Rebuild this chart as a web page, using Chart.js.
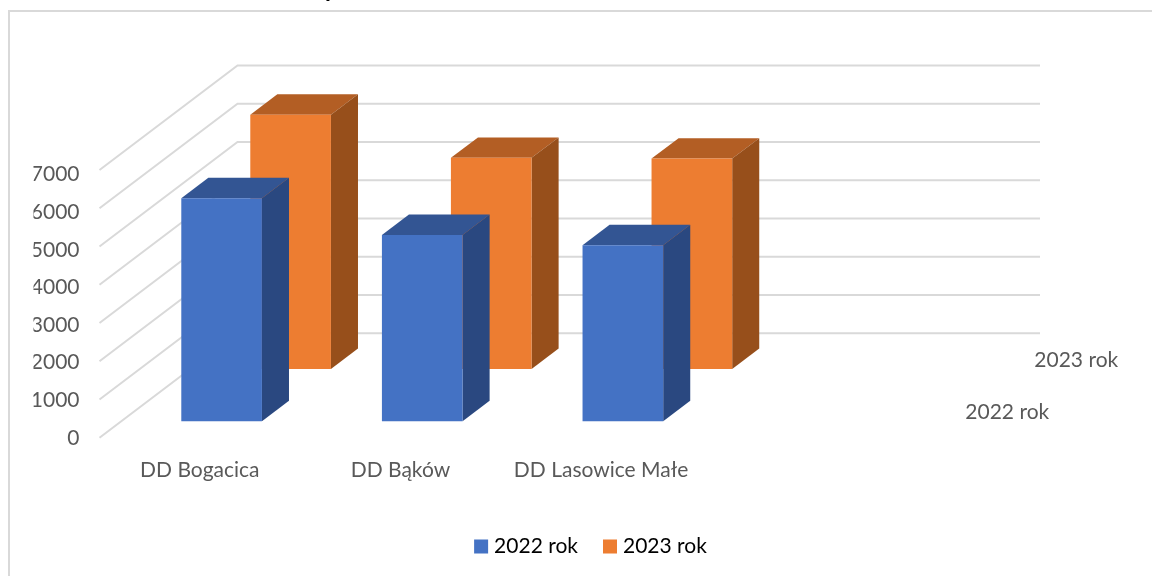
<!DOCTYPE html>
<html>
<head>
<meta charset="UTF-8">
<title>DD 2022 2023</title>
<style>
  body { margin: 0; background: #fff; }
  canvas { display: block; }
</style>
</head>
<body>
<canvas id="myChart" width="1152" height="576"></canvas>
<script src="https://cdn.jsdelivr.net/npm/chart.js@4/dist/chart.umd.min.js"></script>
<script>
var categories = ['DD Bogacica', 'DD Bąków', 'DD Lasowice Małe', ''];
var seriesNames = ['2022 rok', '2023 rok'];
var values2022 = [5830, 4870, 4600, null];
var values2023 = [6650, 5520, 5500, null];
var tickValues = [0, 1000, 2000, 3000, 4000, 5000, 6000, 7000];

var frontColors = ['#4472C4', '#ED7D31'];
var topColors = ['#335593', '#B35E24'];
var sideColors = ['#2A4880', '#974F1B'];

var textColor = '#595959';
var gridColor = '#D9D9D9';
var fontName = 'Lato, Carlito, sans-serif';
var fontSize = 21;

// the oblique floor: how far the back wall sits from the front plane
var wallDx = 138, wallDy = 104.5;
// where each series stands on the floor (0 front, 1 back) and how deep a bar is
var seriesDepth = [0.158, 0.658];
var barDepth = 0.196;

function poly(ctx, color, pts) {
  ctx.fillStyle = color;
  ctx.beginPath();
  ctx.moveTo(pts[0][0], pts[0][1]);
  for (var i = 1; i < pts.length; i++) ctx.lineTo(pts[i][0], pts[i][1]);
  ctx.closePath();
  ctx.fill();
}

function setTicks(scale) {
  scale.ticks = tickValues.map(function (v) { return { value: v }; });
}

var fake3d = {
  id: 'fake3d',
  beforeDraw: function (chart) {
    var ctx = chart.ctx;
    ctx.save();
    // outer frame, its right and bottom fall outside of the picture
    ctx.strokeStyle = gridColor;
    ctx.lineWidth = 2;
    ctx.beginPath();
    ctx.moveTo(9, 576);
    ctx.lineTo(9, 11);
    ctx.lineTo(1152, 11);
    ctx.stroke();
    // the title is cut off by the top edge, only a descender is left
    ctx.fillStyle = '#000';
    ctx.font = 'bold 24px ' + fontName;
    ctx.textAlign = 'left';
    ctx.textBaseline = 'alphabetic';
    ctx.fillText('p', 325, -3);
    ctx.restore();
  },
  beforeDatasetsDraw: function (chart) {
    var ctx = chart.ctx, y = chart.scales.y, x = chart.scales.x;
    ctx.save();
    // side wall and back wall gridlines
    ctx.strokeStyle = gridColor;
    ctx.lineWidth = 2;
    tickValues.forEach(function (v) {
      var py = y.getPixelForValue(v);
      ctx.beginPath();
      ctx.moveTo(x.left, py);
      ctx.lineTo(x.left + wallDx, py - wallDy);
      ctx.lineTo(x.right + wallDx, py - wallDy);
      ctx.stroke();
    });
    ctx.restore();
  },
  afterDatasetsDraw: function (chart) {
    var ctx = chart.ctx, x = chart.scales.x, y = chart.scales.y;
    var dx = wallDx * barDepth, dy = wallDy * barDepth;
    // back series first so the front one covers it
    for (var s = chart.data.datasets.length - 1; s >= 0; s--) {
      var ox = wallDx * seriesDepth[s], oy = wallDy * seriesDepth[s];
      chart.getDatasetMeta(s).data.forEach(function (bar, i) {
        if (chart.data.datasets[s].data[i] == null) return;
        var l = bar.x - bar.width / 2 + ox, r = l + bar.width;
        var t = bar.y - oy, b = bar.base - oy;
        poly(ctx, topColors[s], [[l, t], [l + dx, t - dy], [r + dx, t - dy], [r, t]]);
        poly(ctx, sideColors[s], [[r, t], [r + dx, t - dy], [r + dx, b - dy], [r, b]]);
        poly(ctx, frontColors[s], [[l, t], [r, t], [r, b], [l, b]]);
      });
    }
    // labels of the depth axis
    ctx.save();
    ctx.fillStyle = textColor;
    ctx.font = fontSize + 'px ' + fontName;
    ctx.textBaseline = 'middle';
    ctx.textAlign = 'left';
    seriesNames.forEach(function (name, s) {
      var f = seriesDepth[s] + barDepth / 2;
      ctx.fillText(name, x.right + wallDx * f + 28, y.bottom - wallDy * f + 1);
    });
    ctx.restore();
  }
};

var ctx = document.getElementById('myChart').getContext('2d');
var myChart = new Chart(ctx, {
  type: 'bar',
  data: {
    labels: categories,
    datasets: [
      { label: seriesNames[0], data: values2022, backgroundColor: 'transparent', borderWidth: 0 },
      { label: seriesNames[1], data: values2023, backgroundColor: 'transparent', borderWidth: 0 }
    ]
  },
  plugins: [fake3d],
  options: {
    responsive: false,
    animation: false,
    layout: { padding: { left: 33.5, top: 170, right: 0, bottom: 9 } },
    datasets: { bar: { grouped: false, categoryPercentage: 1, barPercentage: 0.402 } },
    scales: {
      x: {
        grid: { display: false, drawTicks: false },
        border: { display: false },
        afterFit: function (s) { s.height = 68.7; },
        ticks: {
          autoSkip: false,
          maxRotation: 0,
          padding: 20,
          color: textColor,
          font: { family: fontName, size: fontSize }
        }
      },
      y: {
        min: 0,
        max: 7000,
        grid: { display: false, drawTicks: false },
        border: { display: false },
        ticks: { display: false },
        afterFit: function (s) { s.width = 0; }
      },
      // the printed labels sit a little tighter than the gridlines they belong to
      yLabels: {
        axis: 'y',
        position: 'left',
        min: 0,
        max: 7124,
        grid: { display: false, drawTicks: false },
        border: { display: false },
        afterBuildTicks: setTicks,
        afterFit: function (s) { s.width = 66; },
        ticks: {
          autoSkip: false,
          padding: 20,
          color: textColor,
          font: { family: fontName, size: fontSize },
          callback: function (v) { return String(v); }
        }
      },
      // keeps the plot clear of the depth axis on the right
      gap: {
        axis: 'y',
        position: 'right',
        grid: { display: false, drawTicks: false },
        border: { display: false },
        ticks: { display: false },
        afterFit: function (s) { s.width = 250; }
      }
    },
    plugins: {
      title: { display: false },
      tooltip: { enabled: false },
      legend: {
        position: 'bottom',
        labels: {
          color: textColor,
          font: { family: fontName, size: fontSize },
          boxWidth: 5,
          boxHeight: 5,
          padding: 29.5,
          generateLabels: function () {
            return seriesNames.map(function (name, s) {
              return { text: name, fillStyle: frontColors[s], strokeStyle: frontColors[s], lineWidth: 9, datasetIndex: s };
            });
          }
        }
      }
    }
  }
});
</script>
</body>
</html>
